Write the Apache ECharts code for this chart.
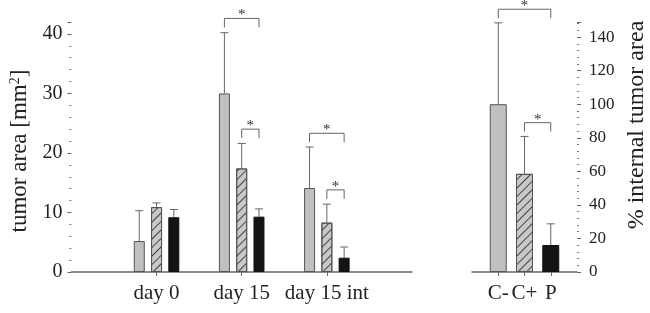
<!DOCTYPE html>
<html>
<head>
<meta charset="utf-8">
<script src="https://cdn.jsdelivr.net/npm/echarts@6/dist/echarts.min.js"></script>
<style>
html, body { margin: 0; padding: 0; background: #fff; }
#chart { width: 650px; height: 313px; }
</style>
</head>
<body>
<div id="chart"></div>
<script>
// left panel: tumor area per day (padding categories at both ends)
const dayLabels = ['', 'day 0', 'day 15', 'day 15 int', ''];
const grayMean = [5.2, 30.0, 14.1];
const grayErr = [10.3, 40.2, 21.0];
const hatchMean = [10.9, 17.4, 8.3];
const hatchErr = [11.6, 21.6, 11.4];
const blackMean = [9.2, 9.3, 2.4];
const blackErr = [10.5, 10.6, 4.2];
const leftTicks = [0, 10, 20, 30, 40];

// right panel: % internal tumor area
const pctLabels = ['', 'C-', 'C+', 'P', ''];
const pctMean = [100, 58.5, 16.1];
const pctErr = [148.5, 80.8, 28.7];
const rightTicks = [0, 20, 40, 60, 80, 100, 120, 140];

// significance brackets: [category a, slot a, category b, slot b, height]
const leftSig = [
    [2, -1, 2, 1, 42.6],
    [2, 0, 2, 1, 24.0],
    [3, -1, 3, 1, 23.3],
    [3, 0, 3, 1, 13.8]
];
const rightSig = [
    [1, 0, 3, 0, 156.6],
    [2, 0, 3, 0, 89.0]
];

const FONT = 'Liberation Serif, Times New Roman, serif';
const slotPx = 17.3;
const grayFill = '#c0c0c0';
const edge = '#555';
const hatch = {
    symbol: 'rect', symbolSize: 1, color: '#444',
    dashArrayX: [1, 0], dashArrayY: [1, 5], rotation: -Math.PI / 4
};

const pad = arr => ['-', ...arr, '-'];

function errData(means, errs, slot) {
    return means.map((m, i) => [i + 1, errs[i], m, slot]);
}

function renderErr(slotWidth) {
    return function (params, api) {
        const top = api.coord([api.value(0), api.value(1)]);
        const base = api.coord([api.value(0), api.value(2)]);
        const x = top[0] + api.value(3) * slotWidth;
        const st = { stroke: '#666', lineWidth: 1 };
        return {
            type: 'group', children: [
                { type: 'line', shape: { x1: x, y1: base[1], x2: x, y2: top[1] }, style: st },
                { type: 'line', shape: { x1: x - 4, y1: top[1], x2: x + 4, y2: top[1] }, style: st }
            ]
        };
    };
}

function renderSig(slotWidth) {
    return function (params, api) {
        const a = api.coord([api.value(0), api.value(4)]);
        const b = api.coord([api.value(2), api.value(4)]);
        const x1 = a[0] + api.value(1) * slotWidth;
        const x2 = b[0] + api.value(3) * slotWidth;
        const y = a[1];
        const st = { stroke: '#666', lineWidth: 1, fill: null };
        return {
            type: 'group', children: [
                { type: 'polyline', shape: { points: [[x1, y + 9], [x1, y], [x2, y], [x2, y + 9]] }, style: st },
                { type: 'text', x: (x1 + x2) / 2, y: y - 3,
                  style: { text: '*', font: '15px ' + FONT, fill: '#333', align: 'center', verticalAlign: 'middle' } }
            ]
        };
    };
}

const axisCommon = {
    axisLine: { lineStyle: { color: '#666', width: 1.5 } },
    splitLine: { show: false }
};

const chart = echarts.init(document.getElementById('chart'));
chart.setOption({
    animation: false,
    grid: [
        { left: 62, top: 22, width: 350, height: 250 },
        { left: 472, top: 22, width: 110, height: 250 }
    ],
    xAxis: [
        Object.assign({
            type: 'category', gridIndex: 0, data: dayLabels, boundaryGap: false,
            axisTick: { length: 4, interval: (i) => i > 0 && i < dayLabels.length - 1, lineStyle: { color: '#666' } },
            axisLabel: { interval: 0, margin: 11, fontFamily: FONT, fontSize: 21, color: '#222' }
        }, axisCommon),
        Object.assign({
            type: 'category', gridIndex: 1, data: pctLabels, boundaryGap: false,
            axisTick: { length: 4, interval: (i) => i > 0 && i < pctLabels.length - 1, lineStyle: { color: '#666' } },
            axisLabel: { interval: 0, margin: 11, fontFamily: FONT, fontSize: 21, color: '#222' }
        }, axisCommon)
    ],
    yAxis: [
        Object.assign({
            type: 'value', gridIndex: 0, min: 0, max: 42, interval: 10,
            name: 'tumor area [mm{sup|2}]', nameLocation: 'middle', nameGap: 33,
            nameTextStyle: {
                fontFamily: FONT, fontSize: 23, color: '#222', padding: [0, 8, 0, 0],
                rich: { sup: { fontFamily: FONT, fontSize: 14, color: '#222', padding: [0, 0, 10, 0] } }
            },
            axisTick: { show: true, length: 4, lineStyle: { color: '#666' } },
            minorTick: { show: true, splitNumber: 5, length: 2, lineStyle: { color: '#777' } },
            axisLabel: {
                margin: 9, fontFamily: FONT, fontSize: 20, color: '#222',
                formatter: v => leftTicks.includes(v) ? String(v) : ''
            }
        }, axisCommon),
        Object.assign({
            type: 'value', gridIndex: 1, position: 'right', min: 0, max: 149, interval: 20,
            name: '% internal tumor area', nameLocation: 'middle', nameGap: 48, nameRotate: 90,
            nameTextStyle: { fontFamily: FONT, fontSize: 24, color: '#222', padding: [0, 0, 0, 44] },
            axisTick: { show: true, length: 4, lineStyle: { color: '#666' } },
            minorTick: { show: true, splitNumber: 5, length: 2, lineStyle: { color: '#777' } },
            axisLabel: {
                margin: 12, fontFamily: FONT, fontSize: 17, color: '#222',
                formatter: v => rightTicks.includes(v) ? String(v) : ''
            }
        }, axisCommon)
    ],
    series: [
        { type: 'bar', xAxisIndex: 0, yAxisIndex: 0, barWidth: 11, barGap: '57%', data: pad(grayMean),
          itemStyle: { color: grayFill, borderColor: edge, borderWidth: 1 } },
        { type: 'bar', xAxisIndex: 0, yAxisIndex: 0, barWidth: 11, barGap: '57%', data: pad(hatchMean),
          itemStyle: { color: '#c8c8c8', borderColor: edge, borderWidth: 1, decal: hatch } },
        { type: 'bar', xAxisIndex: 0, yAxisIndex: 0, barWidth: 11, barGap: '57%', data: pad(blackMean),
          itemStyle: { color: '#141414', borderColor: '#111', borderWidth: 1 } },
        { type: 'bar', xAxisIndex: 1, yAxisIndex: 1, barWidth: 17,
          data: pad(pctMean.map((v, i) => ({
              value: v,
              itemStyle: i === 0 ? { color: grayFill, borderColor: edge, borderWidth: 1 }
                  : i === 1 ? { color: '#c8c8c8', borderColor: edge, borderWidth: 1, decal: hatch }
                  : { color: '#141414', borderColor: '#111', borderWidth: 1 }
          }))) },
        { type: 'custom', xAxisIndex: 0, yAxisIndex: 0, renderItem: renderErr(slotPx), z: 1,
          data: [...errData(grayMean, grayErr, -1), ...errData(hatchMean, hatchErr, 0), ...errData(blackMean, blackErr, 1)] },
        { type: 'custom', xAxisIndex: 1, yAxisIndex: 1, renderItem: renderErr(0), z: 1,
          data: errData(pctMean, pctErr, 0) },
        { type: 'custom', xAxisIndex: 0, yAxisIndex: 0, renderItem: renderSig(slotPx), clip: false, data: leftSig },
        { type: 'custom', xAxisIndex: 1, yAxisIndex: 1, renderItem: renderSig(0), clip: false, data: rightSig }
    ]
});
</script>
</body>
</html>
